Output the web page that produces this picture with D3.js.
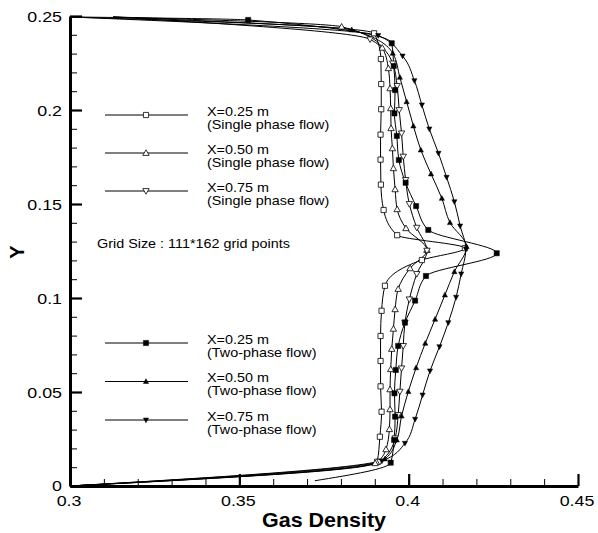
<!DOCTYPE html>
<html><head><meta charset="utf-8">
<script src="https://cdn.jsdelivr.net/npm/d3@7"></script>
<style>
html,body{margin:0;padding:0;background:#fff;}
svg{display:block;font-family:"Liberation Sans",Arial,Helvetica,sans-serif;}
</style></head>
<body>
<svg id="chart" width="598" height="533"></svg>
<script>
// ---- Data (Gas Density, Y) ----
const xTickValues = [0.3, 0.35, 0.4, 0.45];
const xTickLabels = ["0.3", "0.35", "0.4", "0.45"];
const yTickValues = [0, 0.05, 0.1, 0.15, 0.2, 0.25];
const yTickLabels = ["0", "0.05", "0.1", "0.15", "0.2", "0.25"];

const singleX025 = [[0.3127,0.2495],[0.3898,0.2408],[0.3918,0.2271],[0.3919,0.2138],[0.3919,0.2004],[0.3917,0.1869],[0.3917,0.1736],[0.3918,0.1603],[0.3926,0.1468],[0.3966,0.1334],[0.4166,0.1265],[0.4039,0.1202],[0.3930,0.1065],[0.3920,0.0932],[0.3917,0.0798],[0.3917,0.0665],[0.3917,0.0530],[0.3920,0.0395],[0.3915,0.0262],[0.3907,0.0129],[0.3000,0.0000]];
const singleX050 = [[0.3127,0.2495],[0.3802,0.2443],[0.3922,0.2331],[0.3940,0.2222],[0.3945,0.2115],[0.3947,0.2009],[0.3948,0.1903],[0.3952,0.1796],[0.3955,0.1690],[0.3960,0.1578],[0.3966,0.1472],[0.3992,0.1371],[0.4054,0.1255],[0.4004,0.1158],[0.3969,0.1048],[0.3960,0.0940],[0.3955,0.0836],[0.3950,0.0729],[0.3947,0.0621],[0.3945,0.0514],[0.3945,0.0408],[0.3943,0.0302],[0.3933,0.0195],[0.3901,0.0121],[0.3000,0.0000]];
const singleX075 = [[0.3127,0.2495],[0.3886,0.2376],[0.3953,0.2248],[0.3966,0.2128],[0.3972,0.2000],[0.3979,0.1876],[0.3984,0.1752],[0.3991,0.1628],[0.4002,0.1500],[0.4024,0.1374],[0.4054,0.1252],[0.4024,0.1128],[0.4002,0.0993],[0.3989,0.0870],[0.3984,0.0745],[0.3979,0.0626],[0.3974,0.0502],[0.3969,0.0378],[0.3960,0.0254],[0.3915,0.0129],[0.3000,0.0000]];
const twoX025 = [[0.3000,0.2495],[0.3526,0.2479],[0.3950,0.2355],[0.3956,0.2234],[0.3960,0.2106],[0.3958,0.1982],[0.3965,0.1862],[0.3971,0.1734],[0.3991,0.1613],[0.4022,0.1489],[0.4058,0.1362],[0.4260,0.1238],[0.4051,0.1117],[0.4019,0.0986],[0.3989,0.0869],[0.3969,0.0745],[0.3962,0.0617],[0.3958,0.0493],[0.3960,0.0369],[0.3957,0.0245],[0.3947,0.0124],[0.3723,0.0028]];
const twoX050 = [[0.3000,0.2495],[0.3832,0.2426],[0.3953,0.2302],[0.3974,0.2174],[0.3994,0.2044],[0.4014,0.1915],[0.4036,0.1787],[0.4066,0.1660],[0.4098,0.1530],[0.4122,0.1401],[0.4171,0.1273],[0.4135,0.1140],[0.4107,0.1016],[0.4078,0.0887],[0.4049,0.0759],[0.4022,0.0629],[0.3999,0.0502],[0.3979,0.0372],[0.3965,0.0245],[0.3930,0.0144],[0.3000,0.0000]];
const twoX075 = [[0.3000,0.2495],[0.3910,0.2396],[0.3982,0.2287],[0.4017,0.2156],[0.4039,0.2027],[0.4061,0.1899],[0.4088,0.1770],[0.4112,0.1642],[0.4135,0.1512],[0.4152,0.1383],[0.4169,0.1261],[0.4155,0.1128],[0.4140,0.1004],[0.4117,0.0869],[0.4091,0.0741],[0.4063,0.0612],[0.4041,0.0484],[0.4019,0.0355],[0.3989,0.0227],[0.3921,0.0133],[0.3000,0.0000]];

const seriesNames = [
  ["X=0.25 m", "(Single phase flow)"],
  ["X=0.50 m", "(Single phase flow)"],
  ["X=0.75 m", "(Single phase flow)"],
  ["X=0.25 m", "(Two-phase flow)"],
  ["X=0.50 m", "(Two-phase flow)"],
  ["X=0.75 m", "(Two-phase flow)"]
];
const seriesData = [singleX025, singleX050, singleX075, twoX025, twoX050, twoX075];
const gridNote = "Grid Size : 111*162 grid points";
const xTitle = "Gas Density";
const yTitle = "Y";

// ---- Layout ----
const svg = d3.select("#chart");
const x = d3.scaleLinear().domain([0.3, 0.45]).range([70, 578]);
const y = d3.scaleLinear().domain([0, 0.25]).range([486, 16]);
const SX = 1.15; // horizontal text stretch seen in the reference

const markerKinds = ["squareOpen","triOpen","triDownOpen","square","tri","triDown"];
function markerPath(kind){
  switch(kind){
    case "squareOpen": return "M-2.6,-2.6H2.6V2.6H-2.6Z";
    case "square": return "M-2.6,-2.6H2.6V2.6H-2.6Z";
    case "triOpen": return "M0,-3.2L3.2,2.4L-3.2,2.4Z";
    case "triDownOpen": return "M0,3.2L3.2,-2.4L-3.2,-2.4Z";
    case "tri": return "M0,-2.8L2.6,2.0L-2.6,2.0Z";
    case "triDown": return "M0,2.8L2.6,-2.0L-2.6,-2.0Z";
  }
}
function isOpen(kind){ return kind.endsWith("Open"); }

function stretchedText(g, txt, px, py, opts){
  const t = g.append("text")
    .attr("transform", `translate(${px},${py}) scale(${opts.sx||SX},1)`)
    .attr("text-anchor", opts.anchor || "start")
    .attr("font-size", opts.size)
    .attr("fill", "#000")
    .text(txt);
  if (opts.bold) t.attr("font-weight", "bold");
  return t;
}

// ---- Axes ----
const minorY = d3.range(0, 25.01, 1).map(v => v/100);
const minorX = d3.range(30, 45.01, 1).map(v => v/100);

const gyMinor = svg.append("g").attr("transform","translate(70,0)")
  .call(d3.axisLeft(y).tickValues(minorY).tickSize(-7).tickSizeOuter(0).tickFormat(""));
gyMinor.select(".domain").remove();
gyMinor.selectAll(".tick line").attr("stroke","#000").attr("stroke-width",1);

const gyMajor = svg.append("g").attr("transform","translate(70,0)")
  .call(d3.axisLeft(y).tickValues(yTickValues).tickSize(-12).tickSizeOuter(0).tickFormat(""));
gyMajor.select(".domain").attr("stroke","#000").attr("stroke-width",3);
gyMajor.selectAll(".tick line").attr("stroke","#000").attr("stroke-width",2.2);

const gxMinor = svg.append("g").attr("transform","translate(0,486)")
  .call(d3.axisBottom(x).tickValues(minorX).tickSize(-7).tickSizeOuter(0).tickFormat(""));
gxMinor.select(".domain").remove();
gxMinor.selectAll(".tick line").attr("stroke","#000").attr("stroke-width",1);

const gxMajor = svg.append("g").attr("transform","translate(0,486)")
  .call(d3.axisBottom(x).tickValues(xTickValues).tickSize(-12).tickSizeOuter(0).tickFormat(""));
gxMajor.select(".domain").attr("stroke","#000").attr("stroke-width",3);
gxMajor.selectAll(".tick line").attr("stroke","#000").attr("stroke-width",2.2);

// Tick labels
const labels = svg.append("g");
yTickValues.forEach((v,i) => {
  const off = v === 0 ? 4.5 : 6;
  stretchedText(labels, yTickLabels[i], 62, y(v) + off, {size: 15.5, anchor: "end"});
});
xTickValues.forEach((v,i) => {
  stretchedText(labels, xTickLabels[i], x(v) - 1, 506, {size: 15.5, anchor: "middle"});
});

// Titles
stretchedText(svg, xTitle, 324, 527, {size: 19.5, anchor: "middle", bold: true, sx: 1.1});
svg.append("text")
  .attr("transform", "translate(24,252) rotate(-90)")
  .attr("text-anchor","middle")
  .attr("font-size", 20)
  .attr("font-weight","bold")
  .text(yTitle);

// ---- Curves ----
const line = d3.line()
  .x(d => x(d[0]))
  .y(d => y(d[1]))
  .curve(d3.curveMonotoneY);

const plot = svg.append("g");
seriesData.forEach((data) => {
  plot.append("path")
    .attr("d", line(data))
    .attr("fill","none")
    .attr("stroke","#000")
    .attr("stroke-width",1);
});
seriesData.forEach((data, si) => {
  const kind = markerKinds[si];
  plot.selectAll(null)
    .data(data.slice(1, data.length - 1))
    .join("path")
    .attr("transform", d => `translate(${x(d[0])},${y(d[1])})`)
    .attr("d", markerPath(kind))
    .attr("fill", isOpen(kind) ? "#fff" : "#000")
    .attr("stroke", "#000")
    .attr("stroke-width", isOpen(kind) ? 0.8 : 0.5);
});

// ---- Legend ----
const legendLineY = [115, 153, 191, 343, 381.5, 420];
const legend = svg.append("g");
seriesNames.forEach((names, i) => {
  const ly = legendLineY[i];
  legend.append("line").attr("x1",105).attr("x2",188).attr("y1",ly).attr("y2",ly)
    .attr("stroke","#000").attr("stroke-width",1);
  const kind = markerKinds[i];
  legend.append("path").attr("transform",`translate(146,${ly})`)
    .attr("d", markerPath(kind))
    .attr("fill", isOpen(kind) ? "#fff" : "#000")
    .attr("stroke","#000").attr("stroke-width", isOpen(kind) ? 0.8 : 0.5);
  stretchedText(legend, names[0], 207, ly + 0.5, {size: 12.5});
  stretchedText(legend, names[1], 207, ly + 13.5, {size: 12.5});
});
stretchedText(svg, gridNote, 97, 247.5, {size: 12.5});
</script>
</body></html>
